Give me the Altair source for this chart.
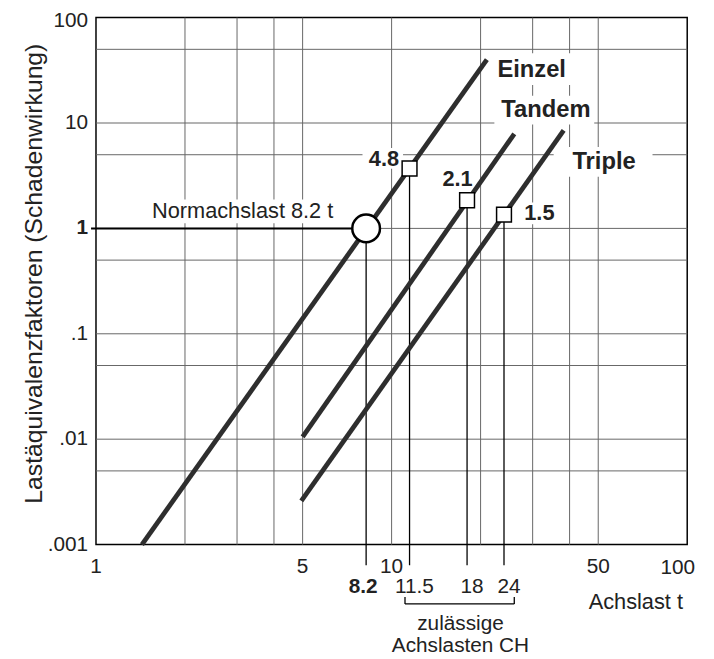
import altair as alt
import pandas as pd

FONT = "Liberation Sans"

# ---------------- data ----------------
x_grid = [2, 3, 4, 5, 10, 20, 30, 40, 50]
y_grid = [0.005, 0.01, 0.05, 0.1, 0.5, 1, 5, 10, 50]

x_tick_vals = [1, 5, 10, 50, 100]
x_tick_labels = ["1", "5", "10", "50", "100"]
y_tick_vals = [100, 10, 0.1, 0.01, 0.001]
y_tick_labels = ["100", "10", ".1", ".01", ".001"]
y_bold_val = [1]
y_bold_label = ["1"]

series = ["Einzel", "Tandem", "Triple"]
line_x_start = [1.43, 5.0, 4.95]
line_y_start = [0.001, 0.0105, 0.0026]
line_x_end = [21.0, 26.0, 38.2]
line_y_end = [40.0, 7.9, 8.5]
series_label_x = [22.8, 23.5, 40.9]
series_label_y = [31.8, 13.4, 4.27]

std_load = [8.2]
std_factor = [1.0]
std_label = ["Normachslast 8.2 t"]
std_label_x = [6.35]
std_label_y = [1.45]

limit_loads = [11.5, 18, 24]
limit_factors = [3.7, 1.85, 1.35]
limit_labels = ["4.8", "2.1", "1.5"]
limit_label_x = [10.6, 18.8, 28.1]
limit_label_y = [4.56, 2.96, 1.39]
limit_tick_labels = ["11.5", "18", "24"]

bracket_x = [11.1, 26.0]
bracket_caption = ["zulässige", "Achslasten CH"]
bracket_caption_x = [17.1]
x_title = ["Achslast t"]
x_title_x = [67.0]
y_title = ["Lastäquivalenzfaktoren (Schadenwirkung)"]

# ---------------- scales ----------------
xs = alt.Scale(type="log", domain=[1, 100], nice=False)
ys = alt.Scale(type="log", domain=[0.001, 100], nice=False)


def X(f="x"):
    return alt.X(f"{f}:Q", scale=xs, axis=None)


def Y(f="y"):
    return alt.Y(f"{f}:Q", scale=ys, axis=None)


layers = []

# grid
layers.append(
    alt.Chart(pd.DataFrame({"x": x_grid}))
    .mark_rule(color="#666666", strokeWidth=1)
    .encode(x=X())
)
layers.append(
    alt.Chart(pd.DataFrame({"y": y_grid}))
    .mark_rule(color="#666666", strokeWidth=1)
    .encode(y=Y())
)

# white boxes behind annotation texts
box_specs = []
for i, lab in enumerate(series):
    offs = [(-8, 78, -17, 15), (-7, 94, -14, 15), (-19, 81, -15, 15)][i]
    box_specs.append((series_label_x[i], series_label_y[i], offs))
box_specs.append((std_label_x[0], std_label_y[0], (-192, 8, -12, 12)))
for i, lab in enumerate(limit_labels):
    offs = [(-37, 4, -11, 10), (-34, 3, -11, 10), (-4, 34, -11, 11)][i]
    box_specs.append((limit_label_x[i], limit_label_y[i], offs))
for bx, by, (x0, x1, y0, y1) in box_specs:
    layers.append(
        alt.Chart(pd.DataFrame({"x": [bx], "y": [by]}))
        .mark_rect(color="white", xOffset=x0, x2Offset=x1, yOffset=y0, y2Offset=y1)
        .encode(x=X(), x2=alt.X2("x:Q"), y=Y(), y2=alt.Y2("y:Q"))
    )

# drop lines
drop_df = pd.DataFrame({"x": std_load + limit_loads, "y": std_factor + limit_factors})
layers.append(
    alt.Chart(drop_df)
    .mark_rule(color="black", strokeWidth=1.3)
    .encode(x=X(), y=Y(), y2=alt.value(554))
)

# standard axle load horizontal line
std_df = pd.DataFrame({"x": std_load, "y": std_factor})
layers.append(
    alt.Chart(std_df)
    .mark_rule(color="black", strokeWidth=2)
    .encode(x=X(), x2=alt.value(-5), y=Y())
)

# the three damage lines
rows = []
for i, s in enumerate(series):
    rows.append({"series": s, "x": line_x_start[i], "y": line_y_start[i]})
    rows.append({"series": s, "x": line_x_end[i], "y": line_y_end[i]})
layers.append(
    alt.Chart(pd.DataFrame(rows))
    .mark_line(color="#2e2e2e", strokeWidth=4.8, strokeCap="butt")
    .encode(x=X(), y=Y(), detail="series:N")
)

# markers
layers.append(
    alt.Chart(std_df)
    .mark_point(shape="circle", filled=True, fill="white", stroke="black",
                strokeWidth=2.5, size=784, opacity=1)
    .encode(x=X(), y=Y())
)
layers.append(
    alt.Chart(pd.DataFrame({"x": limit_loads, "y": limit_factors}))
    .mark_point(shape="square", filled=True, fill="white", stroke="black",
                strokeWidth=1.5, size=225, opacity=1)
    .encode(x=X(), y=Y())
)

# series labels
layers.append(
    alt.Chart(pd.DataFrame({"x": series_label_x, "y": series_label_y, "t": series}))
    .mark_text(align="left", baseline="middle", font=FONT, fontSize=24,
               fontWeight="bold", color="#222")
    .encode(x=X(), y=Y(), text="t:N")
)
layers.append(
    alt.Chart(pd.DataFrame({"x": std_label_x, "y": std_label_y, "t": std_label}))
    .mark_text(align="right", baseline="middle", font=FONT, fontSize=22, color="#222")
    .encode(x=X(), y=Y(), text="t:N")
)
lim_df = pd.DataFrame({"x": limit_label_x, "y": limit_label_y, "t": limit_labels})
layers.append(
    alt.Chart(lim_df.iloc[:2])
    .mark_text(align="right", baseline="middle", font=FONT, fontSize=22,
               fontWeight="bold", color="#222")
    .encode(x=X(), y=Y(), text="t:N")
)
layers.append(
    alt.Chart(lim_df.iloc[2:])
    .mark_text(align="left", baseline="middle", font=FONT, fontSize=22,
               fontWeight="bold", color="#222")
    .encode(x=X(), y=Y(), text="t:N")
)

# x tick labels
layers.append(
    alt.Chart(pd.DataFrame({"x": x_tick_vals[:-1], "t": x_tick_labels[:-1]}))
    .mark_text(align="center", baseline="middle", font=FONT, fontSize=21, color="#222")
    .encode(x=X(), y=alt.value(556), text="t:N")
)
layers.append(
    alt.Chart(pd.DataFrame({"x": x_tick_vals[-1:], "t": x_tick_labels[-1:]}))
    .mark_text(align="right", baseline="middle", font=FONT, fontSize=21, color="#222", dx=8)
    .encode(x=X(), y=alt.value(557), text="t:N")
)
layers.append(
    alt.Chart(pd.DataFrame({"x": std_load, "t": ["8.2"]}))
    .mark_text(align="center", baseline="middle", font=FONT, fontSize=21,
               fontWeight="bold", color="#222", dx=-3)
    .encode(x=X(), y=alt.value(576), text="t:N")
)
layers.append(
    alt.Chart(pd.DataFrame({"x": limit_loads, "t": limit_tick_labels}))
    .mark_text(align="center", baseline="middle", font=FONT, fontSize=21,
               color="#222", dx=5)
    .encode(x=X(), y=alt.value(576), text="t:N")
)

# y tick labels
layers.append(
    alt.Chart(pd.DataFrame({"y": y_tick_vals[:1], "t": y_tick_labels[:1]}))
    .mark_text(align="right", baseline="middle", font=FONT, fontSize=21,
               color="#222", dy=4)
    .encode(x=alt.value(-8), y=Y(), text="t:N")
)
layers.append(
    alt.Chart(pd.DataFrame({"y": y_tick_vals[1:], "t": y_tick_labels[1:]}))
    .mark_text(align="right", baseline="middle", font=FONT, fontSize=21, color="#222")
    .encode(x=alt.value(-8), y=Y(), text="t:N")
)
layers.append(
    alt.Chart(pd.DataFrame({"y": y_bold_val, "t": y_bold_label}))
    .mark_text(align="right", baseline="middle", font=FONT, fontSize=21,
               fontWeight="bold", color="#222")
    .encode(x=alt.value(-8), y=Y(), text="t:N")
)

# bracket under permitted axle loads
layers.append(
    alt.Chart(pd.DataFrame({"a": [bracket_x[0]], "b": [bracket_x[1]]}))
    .mark_rule(color="black", strokeWidth=1.3)
    .encode(x=X("a"), x2=alt.X2("b:Q"), y=alt.value(593))
)
layers.append(
    alt.Chart(pd.DataFrame({"x": bracket_x}))
    .mark_rule(color="black", strokeWidth=1.3)
    .encode(x=X(), y=alt.value(586), y2=alt.value(593))
)
layers.append(
    alt.Chart(pd.DataFrame({"x": bracket_caption_x * 2, "t": bracket_caption,
                            "row": [0, 1]}))
    .mark_text(align="center", baseline="middle", font=FONT, fontSize=21, color="#222")
    .encode(x=X(), y=alt.Y("row:Q", scale=alt.Scale(domain=[0, 1], range=[613, 636]),
                           axis=None), text="t:N")
)

# axis titles
layers.append(
    alt.Chart(pd.DataFrame({"x": x_title_x, "t": x_title}))
    .mark_text(align="center", baseline="middle", font=FONT, fontSize=22, color="#222")
    .encode(x=X(), y=alt.value(591), text="t:N")
)
layers.append(
    alt.Chart(pd.DataFrame({"t": y_title}))
    .mark_text(align="center", baseline="middle", font=FONT, fontSize=25,
               color="#222", angle=270)
    .encode(x=alt.value(-63), y=alt.value(259), text="t:N")
)

chart = (
    alt.layer(*layers)
    .resolve_scale(y="independent")
    .properties(
        width=598,
        height=533,
        padding={"left": 89, "top": 6, "right": 19, "bottom": 110},
        autosize=alt.AutoSizeParams(type="none"),
        background="white",
    )
    .configure_view(stroke="black", strokeWidth=1.5)
)

chart.save("out.html", embed_options={"renderer": "svg", "actions": False})
